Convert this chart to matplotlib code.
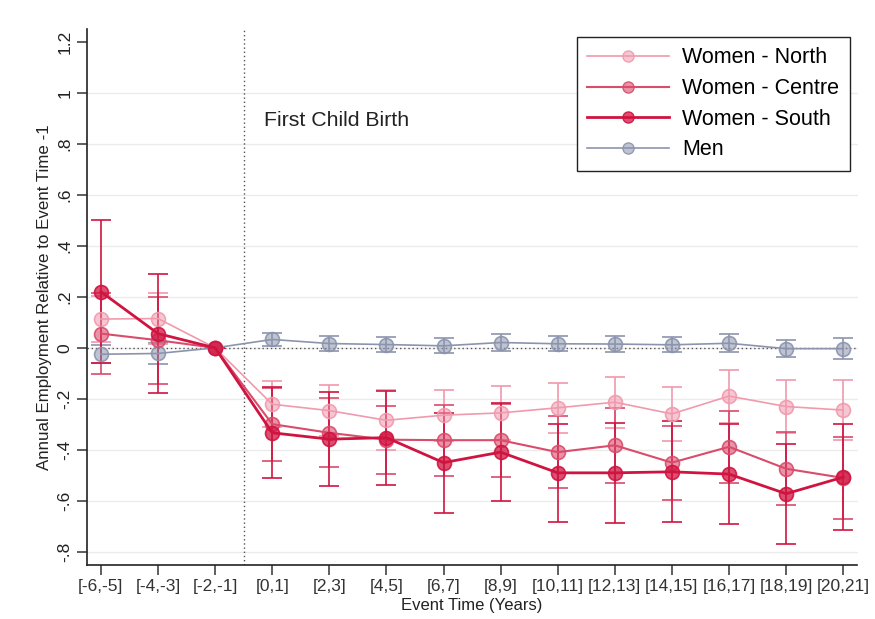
import numpy as np
import matplotlib
matplotlib.use("Agg")
import matplotlib.pyplot as plt
from matplotlib.colors import to_rgba
from matplotlib.lines import Line2D

plt.rcParams["font.family"] = ["Liberation Sans", "DejaVu Sans"]

# ---------- データ ----------
periods = ["[-6,-5]", "[-4,-3]", "[-2,-1]", "[0,1]", "[2,3]", "[4,5]", "[6,7]",
           "[8,9]", "[10,11]", "[12,13]", "[14,15]", "[16,17]", "[18,19]", "[20,21]"]

women_north = [0.113, 0.115, 0, -0.221, -0.246, -0.284, -0.264, -0.255,
               -0.235, -0.213, -0.259, -0.189, -0.230, -0.244]
women_centre = [0.056, 0.030, 0, -0.299, -0.333, -0.360, -0.362, -0.362,
                -0.409, -0.382, -0.450, -0.388, -0.474, -0.510]
women_south = [0.220, 0.056, 0, -0.333, -0.358, -0.352, -0.450, -0.409,
               -0.490, -0.490, -0.486, -0.495, -0.572, -0.507]
men = [-0.025, -0.022, 0, 0.033, 0.017, 0.013, 0.008, 0.021,
       0.016, 0.015, 0.012, 0.018, -0.003, -0.003]

# 95%信頼区間の半幅
north_ci = [0.09, 0.10, 0, 0.09, 0.10, 0.118, 0.10, 0.105, 0.098, 0.10, 0.106, 0.104, 0.103, 0.117]
centre_ci = [0.16, 0.17, 0, 0.143, 0.135, 0.133, 0.139, 0.143, 0.14, 0.146, 0.145, 0.142, 0.144, 0.16]
south_ci = [0.28, 0.233, 0, 0.179, 0.184, 0.184, 0.196, 0.192, 0.191, 0.197, 0.198, 0.197, 0.196, 0.207]
men_ci = [0.035, 0.04, 0, 0.025, 0.028, 0.03, 0.03, 0.035, 0.03, 0.03, 0.03, 0.035, 0.033, 0.04]

ytick_vals = [-0.8, -0.6, -0.4, -0.2, 0, 0.2, 0.4, 0.6, 0.8, 1.0, 1.2]
ytick_labels = ["-.8", "-.6", "-.4", "-.2", "0", ".2", ".4", ".6", ".8", "1", "1.2"]
# ----------------------------

x = np.arange(len(periods))

fig = plt.figure(figsize=(8.75, 6.19), dpi=100)
ax = fig.add_axes([0.099, 0.087, 0.881, 0.866])

# グリッド（Stata風の薄い線）
for v in ytick_vals[:-1]:
    ax.axhline(v, color="#ebebeb", lw=1.0, zorder=0)
ax.axhline(0, color="#555555", lw=1.0, ls=(0, (1, 2)), zorder=1)
ax.axvline(2.5, color="#555555", lw=1.0, ls=(0, (1, 2)), zorder=1)

series = [
    ("Men", men, men_ci, "#8c94ad", 1.2, 0.55),
    ("Women - North", women_north, north_ci, "#f09aae", 1.2, 0.55),
    ("Women - Centre", women_centre, centre_ci, "#d94c6c", 1.5, 0.6),
    ("Women - South", women_south, south_ci, "#cf1440", 2.0, 0.75),
]

handles = {}
for name, vals, ci, col, lw, a in series:
    ax.errorbar(x, vals, yerr=ci, fmt="-o", color=col, lw=lw,
                elinewidth=1.2, capsize=7, capthick=1.2,
                ms=10, mfc=to_rgba(col, a), mec=to_rgba(col, 0.9), mew=1.2,
                zorder=3)
    # 凡例用（エラーバーなし）
    handles[name] = Line2D([], [], color=col, lw=lw, marker="o", ms=8,
                           mfc=to_rgba(col, a), mec=to_rgba(col, 0.9), mew=1.0)

ax.text(2.86, 0.89, "First Child Birth", fontsize=15.3, va="center", ha="left", color="#222222")

ax.set_xlim(-0.25, 13.25)
ax.set_ylim(-0.852, 1.25)
ax.set_xticks(x)
ax.set_xticklabels(periods, fontsize=12.5, color="#333333")
ax.set_yticks(ytick_vals)
ax.set_yticklabels(ytick_labels, fontsize=12.5, rotation=90, va="center", color="#222222")
ax.tick_params(axis="both", length=7, width=1.1, color="#333333", pad=3)

ax.set_xlabel("Event Time (Years)", fontsize=12, labelpad=3, color="#222222")
ax.set_ylabel("Annual Employment Relative to Event Time -1", fontsize=12.2, labelpad=4, color="#222222")

for s in ["top", "right"]:
    ax.spines[s].set_visible(False)
for s in ["left", "bottom"]:
    ax.spines[s].set_linewidth(1.2)
    ax.spines[s].set_color("#222222")

order = ["Women - North", "Women - Centre", "Women - South", "Men"]
leg = ax.legend([handles[k] for k in order], order, loc="upper right",
                fontsize=15.5, handlelength=3.8, labelspacing=0.45,
                borderaxespad=0.35, fancybox=False, framealpha=1,
                edgecolor="#222222", handletextpad=0.6, borderpad=0.5)
leg.get_frame().set_linewidth(1.0)

fig.savefig("out.png", dpi=100)
